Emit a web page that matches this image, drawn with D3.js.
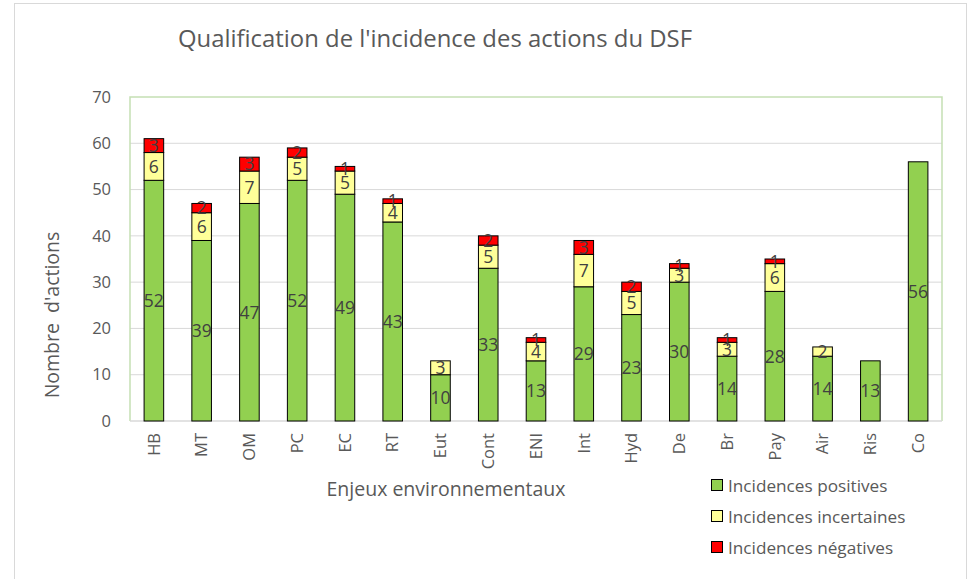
<!DOCTYPE html>
<html><head><meta charset="utf-8">
<script src="https://cdn.jsdelivr.net/npm/d3@7"></script>
<style>body{margin:0;background:#fff;} text{font-family:"Open Sans","Noto Sans",sans-serif;}</style>
</head><body>
<svg id="c" width="969" height="579"></svg>
<script>
const categories = ["HB","MT","OM","PC","EC","RT","Eut","Cont","ENI","Int","Hyd","De","Br","Pay","Air","Ris","Co"];
const positives  = [52,39,47,52,49,43,10,33,13,29,23,30,14,28,14,13,56];
const incertaines= [6,6,7,5,5,4,3,5,4,7,5,3,3,6,2,0,0];
const negatives  = [3,2,3,2,1,1,0,2,1,3,2,1,1,1,0,0,0];
const seriesNames = ["Incidences positives","Incidences incertaines","Incidences négatives"];
const seriesColors = ["#92D050","#FFFF99","#FF0000"];
const yTicks = [0,10,20,30,40,50,60,70];
const title = "Qualification de l'incidence des actions du DSF";

const svg = d3.select("#c");
const L=130, R=942, T=97, B=421;
svg.append("rect").attr("x",14.5).attr("y",3.5).attr("width",952).attr("height",590)
  .attr("fill","#fff").attr("stroke","#d9d9d9");

const x = d3.scaleBand().domain(categories).range([L,R]).paddingInner(0.59).paddingOuter(0.295);
const y = d3.scaleLinear().domain([0,70]).range([B,T]);

svg.append("g").selectAll("line").data(yTicks.filter(d=>d>0 && d<70)).join("line")
  .attr("x1",L).attr("x2",R).attr("y1",d=>y(d)).attr("y2",d=>y(d))
  .attr("stroke","#d9d9d9").attr("stroke-width",1);
svg.append("path").attr("d",`M${L},${B} V${T} H${R} V${B}`).attr("fill","none")
  .attr("stroke","#C5E0B4").attr("stroke-width",1.5);
svg.append("line").attr("x1",L).attr("x2",R).attr("y1",B).attr("y2",B).attr("stroke","#d9d9d9").attr("stroke-width",1.5);

const yAxis = d3.axisLeft(y).tickValues(yTicks).tickSize(0).tickPadding(19);
const ga = svg.append("g").attr("transform",`translate(${L},0)`).call(yAxis);
ga.select(".domain").remove();
ga.selectAll("text").attr("font-size",16.5).attr("fill","#595959").attr("font-family","'Open Sans',sans-serif");

const xAxis = d3.axisBottom(x).tickSize(0).tickPadding(0);
const gx = svg.append("g").attr("transform",`translate(0,${B})`).call(xAxis);
gx.select(".domain").remove();
gx.selectAll("text").attr("font-size",16.5).attr("fill","#595959").attr("font-family","'Open Sans',sans-serif")
  .attr("transform","rotate(-90)").attr("text-anchor","end").attr("x",-12).attr("y",0).attr("dy","0.35em");

const rows = categories.map((c,i)=>({cat:c, p:positives[i], u:incertaines[i], n:negatives[i]}));
const stack = d3.stack().keys(["p","u","n"])(rows);
stack.forEach((s,si)=>{
  svg.append("g").selectAll("rect").data(s.filter(d=>d[1]-d[0]>0)).join("rect")
    .attr("x",d=>x(d.data.cat)).attr("width",x.bandwidth())
    .attr("y",d=>y(d[1])).attr("height",d=>y(d[0])-y(d[1]))
    .attr("fill",seriesColors[si]).attr("stroke","#000").attr("stroke-width",1);
});
stack.forEach((s,si)=>{
  svg.append("g").selectAll("text").data(s.filter(d=>d[1]-d[0]>0)).join("text")
    .attr("x",d=>x(d.data.cat)+x.bandwidth()/2)
    .attr("y",d=>y((d[0]+d[1])/2)).attr("dy","0.36em")
    .attr("text-anchor","middle").attr("font-size",17.5).attr("fill","#404040")
    .text(d=>d[1]-d[0]);
});

svg.append("text").attr("x",178).attr("y",47).attr("font-size",23).attr("fill","#595959")
  .attr("textLength",514).attr("lengthAdjust","spacingAndGlyphs").text(title);
svg.append("text").attr("transform","translate(59,315) rotate(-90)").attr("text-anchor","middle")
  .attr("font-size",19.5).attr("fill","#595959").style("white-space","pre").text("Nombre  d'actions");
svg.append("text").attr("x",446).attr("y",496).attr("text-anchor","middle")
  .attr("font-size",19.5).attr("fill","#595959").text("Enjeux environnementaux");

const lg = svg.append("g");
seriesNames.forEach((nm,i)=>{
  const cy = 485 + i*31;
  lg.append("rect").attr("x",711.5).attr("y",cy-5.5).attr("width",11).attr("height",11)
    .attr("fill",seriesColors[i]).attr("stroke","#000").attr("stroke-width",1);
  lg.append("text").attr("x",728).attr("y",cy+1).attr("dy","0.35em").attr("font-size",17.2)
    .attr("fill","#595959").text(nm);
});
</script>
</body></html>
